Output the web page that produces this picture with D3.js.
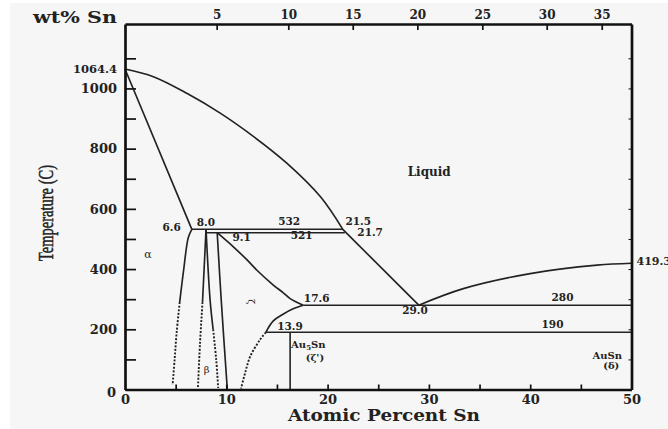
<!DOCTYPE html>
<html><head><meta charset="utf-8">
<script src="https://cdn.jsdelivr.net/npm/d3@7"></script>
<style>
html,body{margin:0;padding:0;background:#fff;}
svg{display:block;}
.num{font-family:"DejaVu Serif",serif;font-weight:bold;fill:#222;}
</style></head>
<body><svg id="c" width="668" height="429"></svg>
<script>
// ---------- data ----------
const tempMajor = [0, 200, 400, 600, 800, 1000];
const tempMinor = [0,100,200,300,400,500,600,700,800,900,1000,1100];
const atMajor = [0, 10, 20, 30, 40, 50];
const atMinor = [0,5,10,15,20,25,30,35,40,45,50];
const wtTickLabels = [5, 10, 15, 20, 25, 30, 35];
const wtTickAt = [9.05, 16.12, 22.48, 28.86, 35.27, 41.63, 47.06];

const liquidusAu = [[0,1064.4],[2.8,1039],[6.1,984],[9.4,918],[12.7,840],[16.0,751],[19.3,640],[21.5,532]];
const liquidusToEutectic = [[21.5,532],[29.0,280]];
const liquidusAuSn = [[29.0,280],[33.4,335],[40.0,385],[46.6,413],[50,419.3]];
const solidusAlpha = [[0,1064.4],[6.6,532]];
const solvusAlpha = [[6.6,532],[6.25,505],[5.8,400],[5.4,290]];
const solvusAlphaDot = [[5.4,290],[5.1,190],[4.9,100],[4.7,15]];
const betaLeft = [[8.0,532],[7.65,290]];
const betaLeftDot = [[7.65,290],[7.4,150],[7.2,5]];
const betaRight = [[8.0,532],[8.4,297],[8.7,200]];
const betaRightDot = [[8.7,200],[9.0,100],[9.2,5]];
const zetaLeft = [[9.1,521],[9.5,297],[10.1,0]];
const zetaUpper = [[9.1,521],[10.7,474],[12.0,432],[13.0,397],[14.64,347],[15.6,322],[16.3,302],[17.6,280]];
const zetaRight = [[17.6,280],[16.6,268],[15.6,250],[14.64,228],[13.9,190]];
const zetaRightDot = [[13.9,190],[13.3,164],[12.35,109],[11.85,54],[11.45,3]];
const isotherms = [ {t:532, x0:6.6, x1:21.5}, {t:521, x0:8.0, x1:21.7}, {t:280, x0:17.6, x1:50}, {t:190, x0:13.9, x1:50} ];
const au5snLine = [[16.3,190],[16.3,0]];

const pointLabels = [
  {s:"6.6", a:4.61, t:527}, {s:"8.0", a:7.98, t:544}, {s:"532", a:16.2, t:546},
  {s:"521", a:17.44, t:500}, {s:"9.1", a:11.52, t:494}, {s:"21.5", a:23.03, t:548},
  {s:"21.7", a:24.2, t:509}, {s:"17.6", a:18.92, t:291}, {s:"29.0", a:28.63, t:251},
  {s:"280", a:43.19, t:295}, {s:"190", a:42.2, t:203}, {s:"13.9", a:16.29, t:198}
];

// ---------- scales ----------
const svg = d3.select("#c");
const x = d3.scaleLinear().domain([0,50]).range([125,631.5]);
const y = d3.scaleLinear().domain([0,1214]).range([389.5,24]);

svg.append("rect").attr("x",10).attr("y",3).attr("width",658).attr("height",426).attr("fill","#f6f6f6");

const ink = "#222";
const line = d3.line().x(d=>x(d[0])).y(d=>y(d[1])).curve(d3.curveCatmullRom.alpha(0.5));
const g = svg.append("g");
function draw(data, dotted, w){
  g.append("path").attr("d", line(data)).attr("fill","none").attr("stroke",ink)
   .attr("stroke-width", w || (dotted?1.9:1.65)).attr("stroke-dasharray", dotted?"2,1.6":null);
}
[liquidusAu, liquidusToEutectic, liquidusAuSn, solidusAlpha, solvusAlpha, betaLeft, betaRight, zetaLeft, zetaUpper, zetaRight].forEach(d=>draw(d,false));
[solvusAlphaDot, betaLeftDot, betaRightDot, zetaRightDot].forEach(d=>draw(d,true));
draw(au5snLine,false,1.6);
g.selectAll("line.iso").data(isotherms).join("line").attr("class","iso")
 .attr("x1",d=>x(d.x0)).attr("x2",d=>x(d.x1)).attr("y1",d=>y(d.t)).attr("y2",d=>y(d.t))
 .attr("stroke",ink).attr("stroke-width",1.5);

// ---------- axes ----------
function styleAxis(sel, fs){
  sel.select(".domain").attr("stroke","#111").attr("stroke-width",2.7);
  sel.selectAll(".tick line").attr("stroke","#111").attr("stroke-width",1.7);
  sel.selectAll("text").attr("class","num").style("font-size",fs+"px").attr("fill","#111");
}
const leftAx = svg.append("g").attr("transform",`translate(${x(0)},0)`)
  .call(d3.axisLeft(y).tickValues(tempMinor).tickSizeInner(-11).tickSizeOuter(0).tickPadding(8)
  .tickFormat(d=> tempMajor.includes(d) ? d : ""));
styleAxis(leftAx,13);
leftAx.selectAll("text").filter(d=>d===0).attr("dx",-1).attr("dy","0.55em");

const bottomAx = svg.append("g").attr("transform",`translate(0,${y(0)})`)
  .call(d3.axisBottom(x).tickValues(atMinor).tickSizeInner(-5).tickSizeOuter(0).tickPadding(5)
  .tickFormat(d=> atMajor.includes(d) ? d : ""));
styleAxis(bottomAx,13);
bottomAx.selectAll(".tick line").filter(d=>d===0||d===50).remove();

const topAx = svg.append("g").attr("transform",`translate(0,${y(1214)})`)
  .call(d3.axisTop(x).tickValues(wtTickAt).tickSizeInner(-6).tickSizeOuter(0).tickPadding(5)
  .tickFormat((d,i)=>wtTickLabels[i]));
styleAxis(topAx,12);

const rightAx = svg.append("g").attr("transform",`translate(${x(50)},0)`)
  .call(d3.axisRight(y).tickValues(tempMinor.filter(d=>d>0)).tickSizeInner(-3).tickSizeOuter(0).tickFormat(""));
styleAxis(rightAx,12);
rightAx.selectAll(".tick line").attr("stroke-width",1);

// ---------- labels ----------
svg.append("text").attr("class","num").attr("x",x(0)-8).attr("y",y(1064.4)+4)
  .attr("text-anchor","end").style("font-size","11.5px").text("1064.4");
svg.append("text").attr("class","num").attr("x",33).attr("y",23)
  .attr("textLength",84).attr("lengthAdjust","spacingAndGlyphs").style("font-size","16px").text("wt% Sn");
svg.append("text").attr("class","num").attr("x",384).attr("y",421)
  .attr("text-anchor","middle").attr("textLength",192).attr("lengthAdjust","spacingAndGlyphs")
  .style("font-size","16px").text("Atomic Percent Sn");
svg.append("text").attr("transform","translate(53,213) rotate(-90)")
  .attr("text-anchor","middle").attr("textLength",96).attr("lengthAdjust","spacingAndGlyphs")
  .style("font-family","'Liberation Serif',serif").style("font-size","20px").attr("fill","#222")
  .attr("stroke","#222").attr("stroke-width",0.5)
  .text("Temperature (C)");

svg.selectAll("text.pl").data(pointLabels).join("text").attr("class","num pl")
  .attr("x",d=>x(d.a)).attr("y",d=>y(d.t)).attr("text-anchor","middle")
  .style("font-size","10.5px").text(d=>d.s);

const lab = (s,a,t,fs,anchor)=>svg.append("text").attr("class","num").attr("x",x(a)).attr("y",y(t))
  .attr("text-anchor",anchor||"middle").style("font-size",fs+"px").text(s);
lab("Liquid",30.03,709,12);
lab("419.3",50.5,415,11,"start");
lab("AuSn",47.6,101,10);
lab("(δ)",48.0,68,10);
lab("(ζ')",18.75,94,10);
const au = svg.append("text").attr("class","num").attr("x",x(16.3)+1).attr("y",y(137))
  .style("font-size","10px");
au.append("tspan").text("Au");
au.append("tspan").attr("dy",2).style("font-size","7px").text("5");
au.append("tspan").attr("dy",-2).text("Sn");
svg.append("text").attr("x",x(2.27)).attr("y",y(437)).attr("text-anchor","middle")
  .style("font-family","'DejaVu Serif',serif").style("font-size","11px").attr("fill","#222").text("α");
svg.append("text").attr("x",x(8.06)).attr("y",y(55)).attr("text-anchor","middle")
  .style("font-family","'DejaVu Serif',serif").style("font-size","10px").attr("fill","#222").text("β");
svg.append("text").attr("transform",`translate(${x(12.44)},${y(292)}) rotate(90)`).attr("text-anchor","middle")
  .attr("dy","0.35em").style("font-family","'DejaVu Serif',serif").style("font-size","9px").attr("fill","#222").text("ζ");
</script></body></html>
